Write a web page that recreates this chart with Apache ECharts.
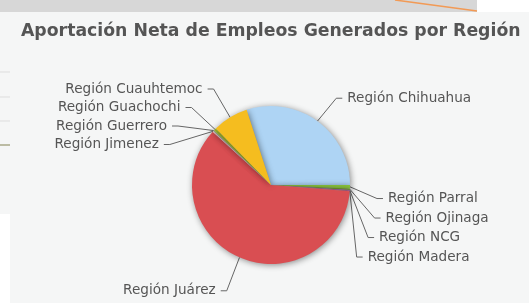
<!DOCTYPE html>
<html>
<head>
  <meta charset="utf-8">
  <title>Aportación Neta de Empleos</title>
  <script src="https://cdn.jsdelivr.net/npm/echarts@6/dist/echarts.min.js"></script>
  <style>
    html, body { margin: 0; padding: 0; background: #f5f6f6; }
  </style>
</head>
<body>
  <div id="main" style="width:529px;height:303px;"></div>
  <script type="text/javascript">
    // regiones y su aportación (%), en el orden en que se dibujan
    var regiones = ['Región Chihuahua', 'Región Parral', 'Región Ojinaga', 'Región NCG', 'Región Madera',
                    'Región Juárez', 'Región Jimenez', 'Región Guerrero', 'Región Guachochi', 'Región Cuauhtemoc'];
    var aportacion = [30.0, 0.7, 0.3, 0.15, 0.1, 60.5, 0.2, 0.2, 0.5, 7.3];
    var colores = ['#aed4f4', '#8cc63e', '#6f9a2a', '#9b4fb0', '#b04060',
                   '#d94e52', '#f2c9c9', '#9aa58a', '#9cb52a', '#f5bd1f'];

    var datos = regiones.map(function (r, i) {
      return { name: r, value: aportacion[i], itemStyle: { color: colores[i] } };
    });

    // ajuste vertical de etiquetas para imitar el apilado del original
    function ajusteEtiqueta(i) {
      if (i === 0) return 3;
      if (i >= 1 && i <= 4) return 11 - (i - 1);
      if (i === 5) return 4;
      if (i === 6) return -7;
      if (i === 7) return -5;
      if (i === 8) return -3;
      return -1;
    }

    var myChart = echarts.init(document.getElementById('main'));
    var option = {
      backgroundColor: '#f5f6f6',
      animation: false,
      title: {
        text: 'Aportación Neta de Empleos Generados por Región',
        left: 16,
        top: 18,
        textStyle: { fontFamily: 'DejaVu Sans', fontWeight: 'bold', fontSize: 17.3, color: '#555555' }
      },
      graphic: [
        { type: 'rect', shape: { x: 0, y: 0, width: 477, height: 12 }, style: { fill: '#d7d7d7' } },
        { type: 'rect', shape: { x: 477, y: 0, width: 52, height: 12 }, style: { fill: '#ffffff' } },
        { type: 'line', shape: { x1: 395, y1: 0, x2: 477, y2: 11 }, style: { stroke: '#f29a55', lineWidth: 1.5 } },
        { type: 'line', shape: { x1: 0, y1: 72, x2: 10, y2: 72 }, style: { stroke: '#dddddd', lineWidth: 1 } },
        { type: 'line', shape: { x1: 0, y1: 97, x2: 10, y2: 97 }, style: { stroke: '#dddddd', lineWidth: 1 } },
        { type: 'line', shape: { x1: 0, y1: 121, x2: 10, y2: 121 }, style: { stroke: '#dddddd', lineWidth: 1 } },
        { type: 'line', shape: { x1: 0, y1: 145, x2: 10, y2: 145 }, style: { stroke: '#a8a888', lineWidth: 1.5 } },
        { type: 'rect', shape: { x: 0, y: 214, width: 10, height: 89 }, style: { fill: '#ffffff' } }
      ],
      series: [{
        type: 'pie',
        center: [271, 185],
        radius: 79,
        startAngle: 108,
        clockwise: true,
        avoidLabelOverlap: true,
        data: datos,
        itemStyle: {
          borderWidth: 0,
          shadowBlur: 6,
          shadowColor: 'rgba(0,0,0,0.45)',
          shadowOffsetX: 1,
          shadowOffsetY: 1
        },
        label: {
          show: true,
          formatter: '{b}',
          fontFamily: 'DejaVu Sans',
          fontSize: 13.6,
          lineHeight: 18.5,
          color: '#555555'
        },
        labelLine: {
          show: true,
          length: 32,
          length2: 6,
          smooth: false,
          lineStyle: { color: '#666666', width: 1 }
        },
        labelLayout: function (params) {
          var dy = ajusteEtiqueta(params.dataIndex);
          if (!dy || !params.labelLinePoints) return {};
          var p = params.labelLinePoints;
          return {
            dy: dy,
            labelLinePoints: [
              [p[0][0], p[0][1]],
              [p[1][0], p[1][1] + dy],
              [p[2][0], p[2][1] + dy]
            ]
          };
        }
      }]
    };
    myChart.setOption(option);
  </script>
</body>
</html>
